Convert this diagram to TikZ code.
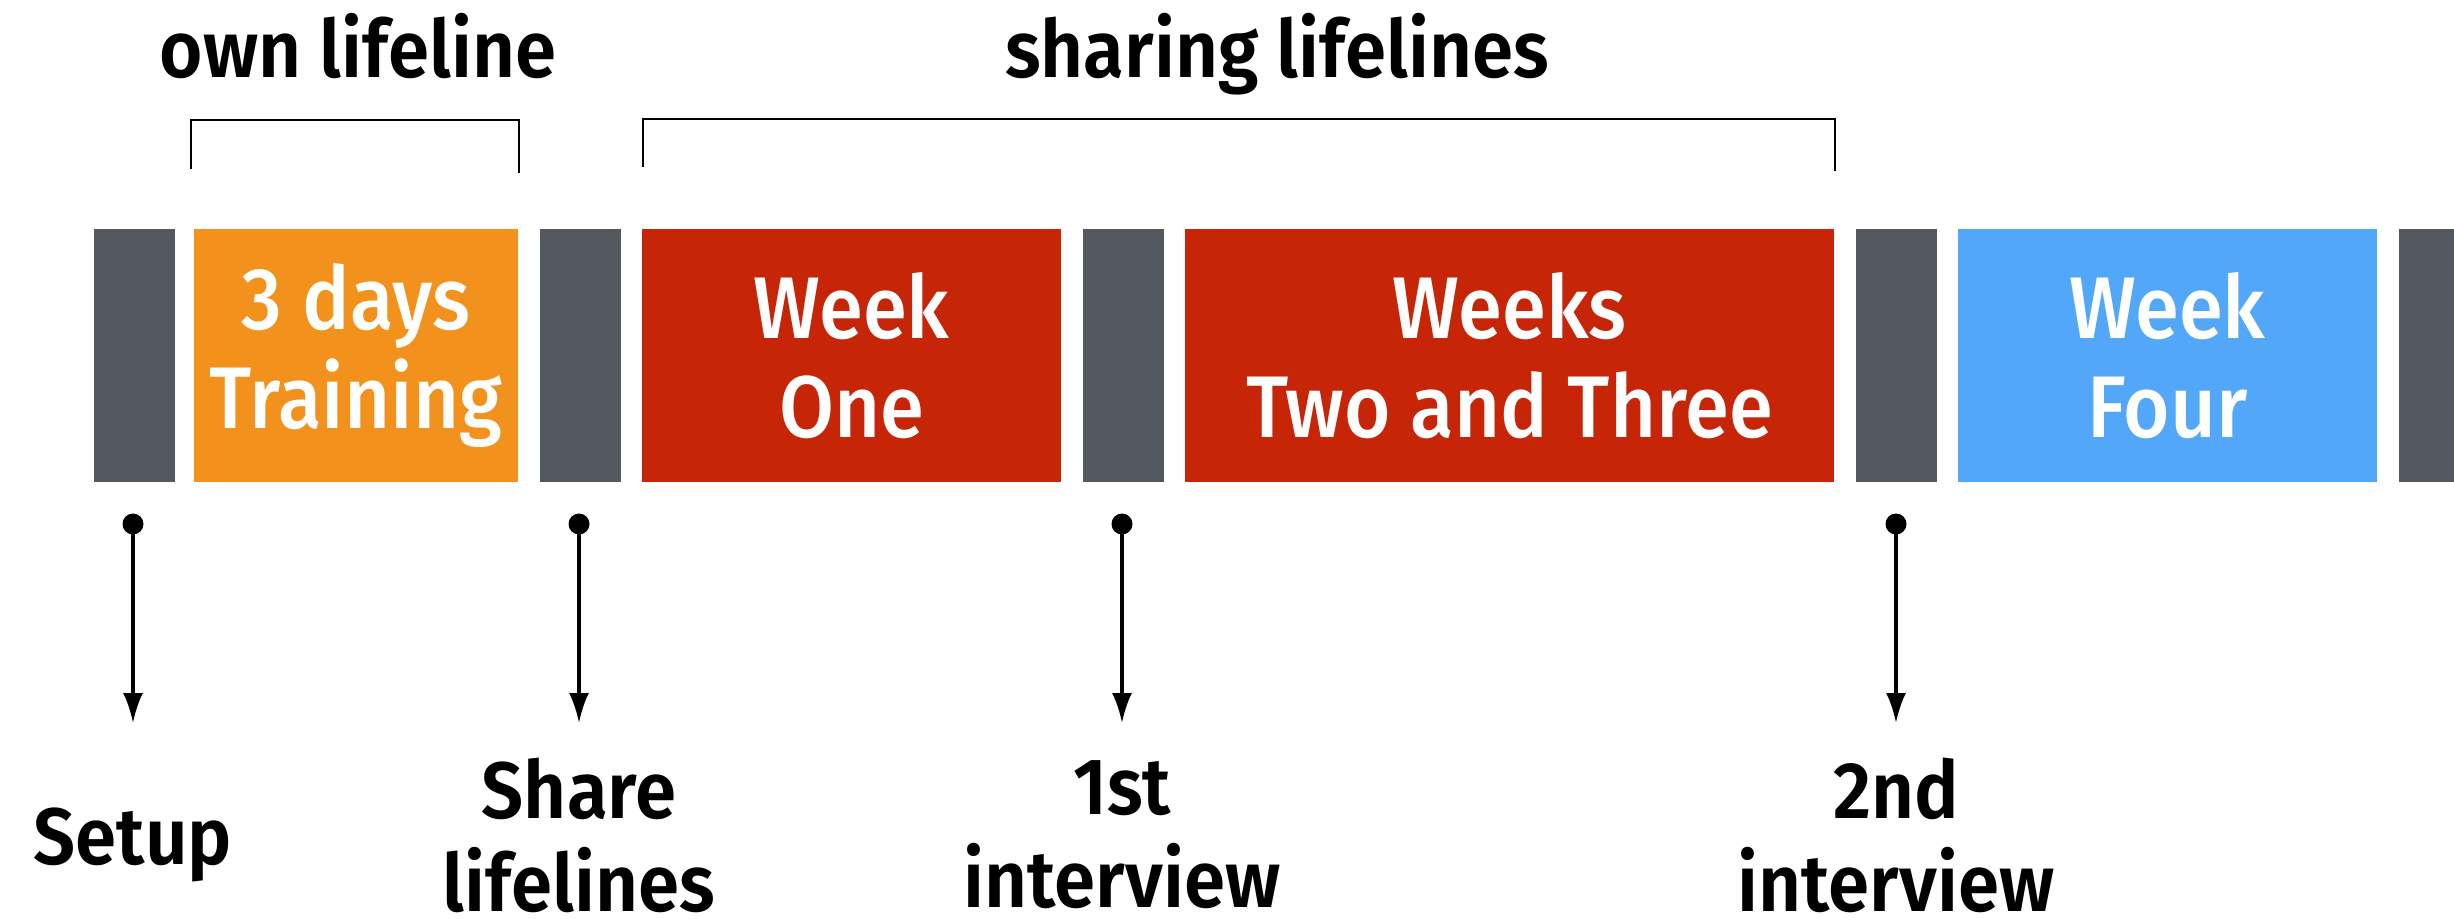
\documentclass[tikz,border=0pt]{standalone}
\usepackage{fontspec}
\setmainfont{Fira Sans}[FakeStretch=0.91]
\newfontfamily\medfont{Fira Sans Medium}[FakeStretch=0.91]
\newfontfamily\semifont{Fira Sans SemiBold}[FakeStretch=0.93]
\usetikzlibrary{arrows.meta,fit}
\definecolor{barGray}{HTML}{53575E}
\definecolor{trainOrange}{HTML}{F2911C}
\definecolor{weekRed}{HTML}{C72508}
\definecolor{weekBlue}{HTML}{53A7F8}
\begin{document}
\begin{tikzpicture}[x=0.4pt,y=-0.4pt,
  sepbar/.style={fill=barGray,draw=none,inner sep=0pt},
  phase/.style={draw=none,inner sep=0pt,text=white,align=center,
    font=\medfont\fontsize{35}{39.6}\selectfont},
  title/.style={anchor=base,inner sep=0pt,font=\semifont\fontsize{32}{37}\selectfont},
  lab/.style={align=center,inner sep=0pt,font=\semifont\fontsize{32}{37.2}\selectfont},
  dotnode/.style={circle,fill=black,inner sep=0pt,minimum size=8.4pt},
  arrowline/.style={line width=1.4pt,-{Latex[length=12pt,width=8pt]}},
  bracket/.style={line width=1pt}
]
\useasboundingbox (0,0) rectangle (2454,919);

% timeline blocks
\node[sepbar,fit={(94,229)(175,482)}] (g1) {};
\node[phase,fill=trainOrange,fit={(194,229)(518,482)}] (train) {};
\node[phase] at (train.center) (traintxt) {3 days\\Training};
\node[sepbar,fit={(540,229)(621,482)}] (g2) {};
\node[phase,fill=weekRed,fit={(642,229)(1061,482)}] (w1) {};
\node[phase] at (w1.center) (w1txt) {Week\\One};
\node[sepbar,fit={(1083,229)(1164,482)}] (g3) {};
\node[phase,fill=weekRed,fit={(1185,229)(1834,482)}] (w23) {};
\node[phase] at (w23.center) (w23txt) {Weeks\\Two and Three};
\node[sepbar,fit={(1856,229)(1937,482)}] (g4) {};
\node[phase,fill=weekBlue,fit={(1958,229)(2377,482)}] (w4) {};
\node[phase] at (w4.center) (w4txt) {Week\\Four};
\node[sepbar,fit={(2399,229)(2454,482)}] (g5) {};

% brackets and titles
\coordinate (b1a) at (191,169);
\coordinate (b1b) at (191,120);
\coordinate (b1c) at (519,120);
\coordinate (b1d) at (519,173);
\draw[bracket] (b1a) -- (b1b) -- (b1c) -- (b1d);
\coordinate (b2a) at (643,167);
\coordinate (b2b) at (643,119);
\coordinate (b2c) at (1835,119);
\coordinate (b2d) at (1835,171);
\draw[bracket] (b2a) -- (b2b) -- (b2c) -- (b2d);
\node[title] (t1) at (358,78) {own lifeline};
\node[title] (t2) at (1277,78) {sharing lifelines};

% event markers
\node[dotnode] (d1) at (133,524) {};
\node[dotnode] (d2) at (579,524) {};
\node[dotnode] (d3) at (1122,524) {};
\node[dotnode] (d4) at (1896,524) {};
\coordinate (e1) at (133,723);
\coordinate (e2) at (579,723);
\coordinate (e3) at (1122,723);
\coordinate (e4) at (1896,723);
\draw[arrowline] (d1.center) -- (e1);
\draw[arrowline] (d2.center) -- (e2);
\draw[arrowline] (d3.center) -- (e3);
\draw[arrowline] (d4.center) -- (e4);

\node[lab] (l1) at (133,845) {Setup};
\node[lab] (l2) at (579,835) {Share\\lifelines};
\node[lab] (l3) at (1122,835) {1st\\interview};
\node[lab] (l4) at (1896,835) {2nd\\interview};
\end{tikzpicture}
\end{document}
